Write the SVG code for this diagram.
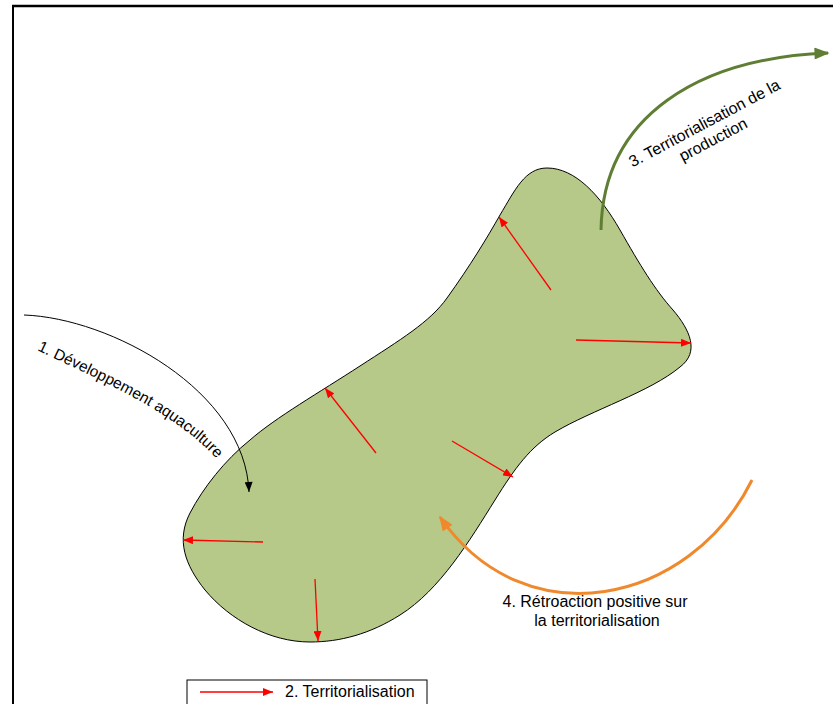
<svg xmlns="http://www.w3.org/2000/svg" width="833" height="704" viewBox="0 0 833 704">
  <style>
    .lbl { font-family: "Liberation Sans", Arial, sans-serif; font-size: 16px; fill: #000; }
    .red { stroke: #ff0000; stroke-width: 1.3; fill: none; }
  </style>
  <defs>
    <marker id="mRed" viewBox="0 0 10 8" refX="10" refY="4" markerWidth="10" markerHeight="8" markerUnits="userSpaceOnUse" orient="auto">
      <path d="M0,0 L10,4 L0,8 Z" fill="#ff0000"/>
    </marker>
    <marker id="mBlack" viewBox="0 0 10 8" refX="10" refY="4" markerWidth="11" markerHeight="8" markerUnits="userSpaceOnUse" orient="auto">
      <path d="M0,0 L10,4 L0,8 Z" fill="#000"/>
    </marker>
    <marker id="mGreen" viewBox="0 0 10 8" refX="9" refY="4" markerWidth="17" markerHeight="12" markerUnits="userSpaceOnUse" orient="auto">
      <path d="M0,0 L10,4 L0,8 Z" fill="#5f7e34"/>
    </marker>
    <marker id="mOrange" viewBox="0 0 10 8" refX="9" refY="4" markerWidth="17" markerHeight="12" markerUnits="userSpaceOnUse" orient="auto">
      <path d="M0,0 L10,4 L0,8 Z" fill="#f0892c"/>
    </marker>
    <path id="txtPath1" d="M 37,350 C 95,378 172,410 216,458 L 240,500"/>
  </defs>

  <rect width="833" height="704" fill="#fff"/>

  <!-- frame -->
  <g id="frame" stroke="#000" fill="none">
    <line x1="12" y1="6" x2="833" y2="6" stroke-width="2.5"/>
    <line x1="13" y1="5" x2="13" y2="704" stroke-width="2"/>
  </g>

  <!-- territory blob -->
  <g id="territory">
    <path d="M 547,168 C 575,168 600,195 620,230 C 640,265 655,290 673,310 C 690,330 700,352 680,367 C 650,392 592,410 555,432 C 530,447 515,468 495,500 C 470,540 440,590 400,615 C 370,634 340,642 310,642 C 270,642 230,620 205,590 C 185,565 176,540 190,513 C 203,488 225,460 250,440 C 275,418 320,392 360,366 C 400,340 430,322 447,298 C 470,266 487,238 500,215 C 515,190 525,168 547,168 Z" fill="#b6c988" stroke="#000" stroke-width="1"/>
  </g>

  <!-- connectors -->
  <g id="connectors">
    <!-- 2. territorialisation arrows -->
    <line class="red" x1="551" y1="290" x2="499" y2="217" marker-end="url(#mRed)"/>
    <line class="red" x1="576" y1="340" x2="691" y2="343" marker-end="url(#mRed)"/>
    <line class="red" x1="376" y1="453" x2="325" y2="388" marker-end="url(#mRed)"/>
    <line class="red" x1="452" y1="441" x2="513" y2="477" marker-end="url(#mRed)"/>
    <line class="red" x1="263" y1="542" x2="183" y2="540" marker-end="url(#mRed)"/>
    <line class="red" x1="315" y1="579" x2="318" y2="641" marker-end="url(#mRed)"/>
    <!-- 1. development -->
    <path d="M 24,315 C 110,318 245,390 249,492" fill="none" stroke="#000" stroke-width="1" marker-end="url(#mBlack)"/>
    <!-- 3. production -->
    <path d="M 601,230 C 603,115 700,58 828,53" fill="none" stroke="#5f7e34" stroke-width="3" marker-end="url(#mGreen)"/>
    <!-- 4. feedback -->
    <path d="M 752,480 C 690,605 525,640 440,517" fill="none" stroke="#f0892c" stroke-width="3" marker-end="url(#mOrange)"/>
  </g>

  <!-- labels -->
  <g id="label1">
    <text class="lbl" style="font-size:15.5px"><textPath href="#txtPath1">1. Développement aquaculture</textPath></text>
  </g>
  <g id="label3" transform="translate(707,128) rotate(-28)">
    <text class="lbl" text-anchor="middle" x="0" y="0">3. Territorialisation de la</text>
    <text class="lbl" text-anchor="middle" x="0" y="18.5">production</text>
  </g>
  <g id="label4">
    <text class="lbl" text-anchor="middle" x="595" y="607">4. Rétroaction positive sur</text>
    <text class="lbl" text-anchor="middle" x="597" y="626">la territorialisation</text>
  </g>

  <!-- legend -->
  <g id="legend">
    <rect x="187" y="680" width="240" height="30" fill="#fff" stroke="#000" stroke-width="1"/>
    <line class="red" x1="200" y1="692" x2="273" y2="692" marker-end="url(#mRed)"/>
    <text class="lbl" x="285" y="697">2. Territorialisation</text>
  </g>
</svg>
